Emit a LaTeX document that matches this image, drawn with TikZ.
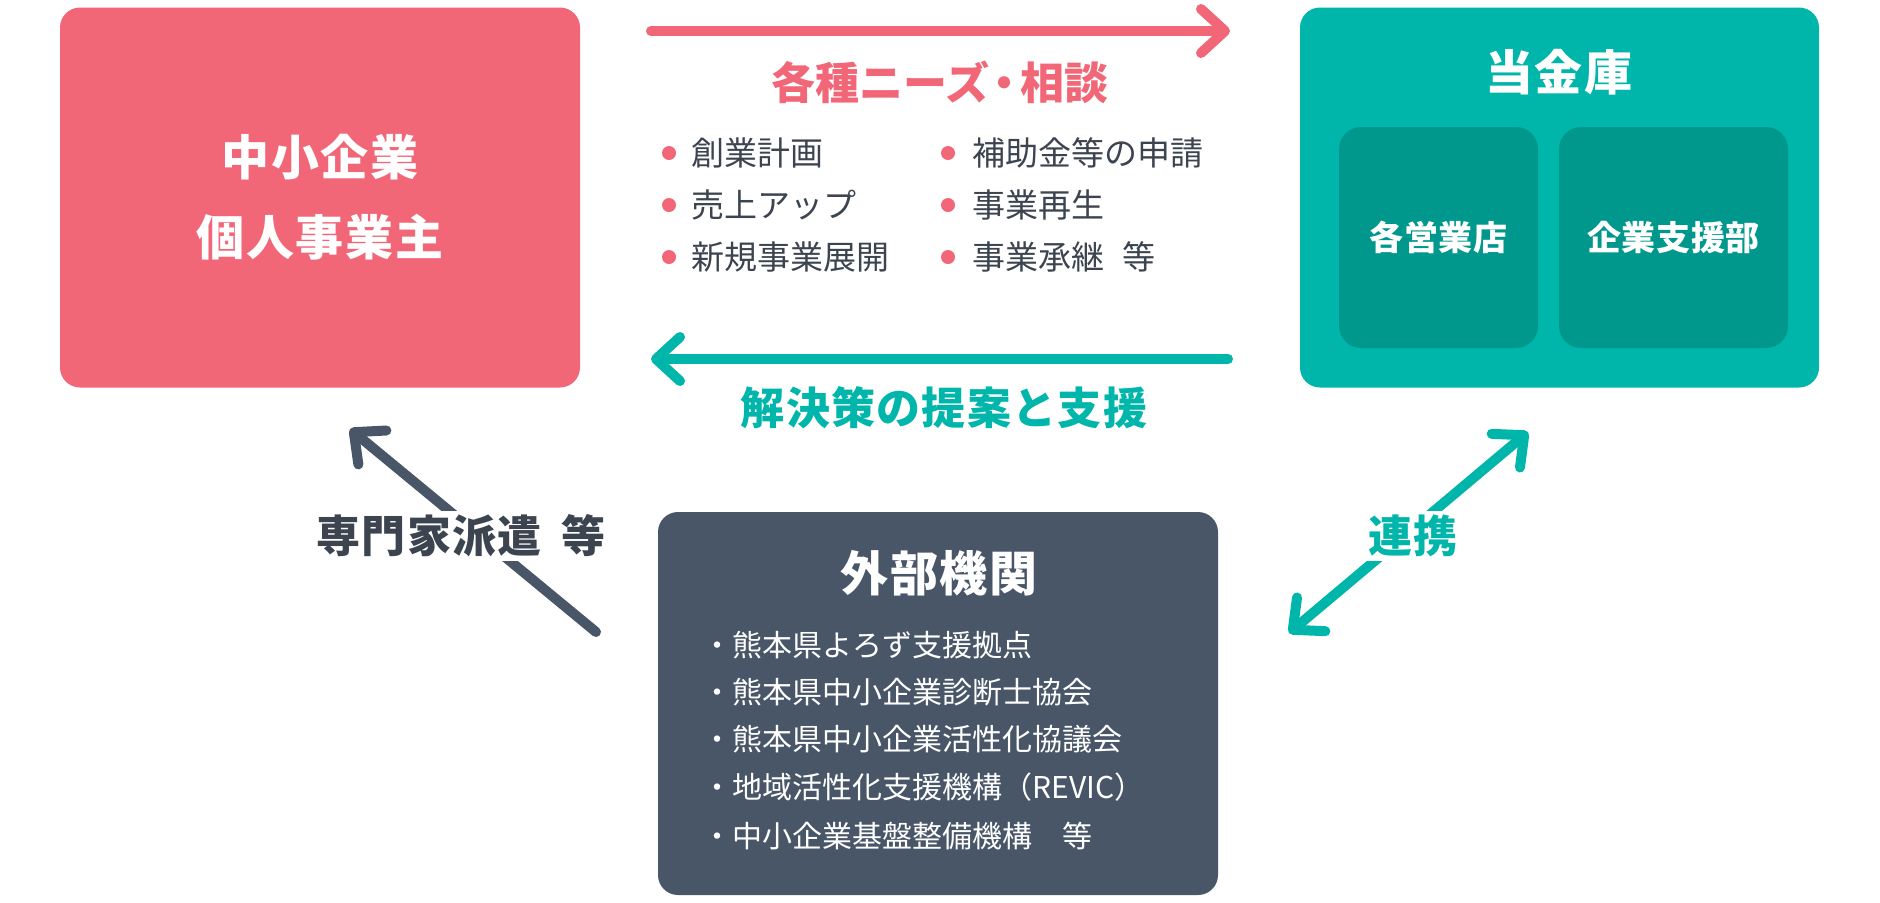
\documentclass[tikz,border=0pt]{standalone}
\usepackage{fontspec}
\setmainfont{Noto Sans CJK JP}
\usetikzlibrary{arrows.meta}
\definecolor{pinkc}{HTML}{F26778}
\definecolor{tealc}{HTML}{00B5AA}
\definecolor{tealdk}{HTML}{00978D}
\definecolor{slate}{HTML}{485668}
\definecolor{inkc}{HTML}{3C4450}
\begin{document}
\begin{tikzpicture}[x=0.5pt,y=-0.5pt,
  box/.style={rounded corners=10pt,inner sep=0pt,align=center,text=white,
    font=\bfseries\fontsize{24}{40}\selectfont\addfontfeature{LetterSpace=4}},
  unit/.style={fill=tealdk,rounded corners=11pt,inner sep=0pt,text=white,
    minimum height=110.5pt,font=\bfseries\fontsize{17}{20}\selectfont\addfontfeature{LetterSpace=2}},
  head/.style={text=white,inner sep=0pt,font=\bfseries\fontsize{24}{28}\selectfont\addfontfeature{LetterSpace=3}},
  need/.style={anchor=west,inner sep=0pt,text=inkc,font=\fontsize{16.5}{20}\selectfont},
  dot/.style={circle,fill=pinkc,inner sep=0pt,minimum size=7pt},
  item/.style={anchor=west,inner sep=0pt,text=white,font=\fontsize{15}{18}\selectfont},
  lbl/.style={inner sep=2pt,font=\bfseries\fontsize{22}{26}\selectfont\addfontfeature{LetterSpace=3}},
  arr/.style={line width=5pt,line cap=round,-{Straight Barb[length=12pt,width=22pt,round]}},
  dblarr/.style={line width=5pt,line cap=round,
    {Straight Barb[length=12pt,width=22pt,round]}-{Straight Barb[length=12pt,width=22pt,round]}}]
\useasboundingbox (0,0) rectangle (1880,902);
% three main boxes
\node[box,fill=pinkc,minimum width=260pt,minimum height=190pt] (firm) at (320,197.5) {中小企業\\個人事業主};
\node[box,fill=tealc,minimum width=259.5pt,minimum height=190pt] (bank) at (1559.5,197.5) {};
\node[head] (bankT) at (1559,72) {当金庫};
\node[unit,minimum width=99.5pt] (branch) at (1438.5,237.5) {各営業店};
\node[unit,minimum width=114.5pt] (dept) at (1673.5,237.5) {企業支援部};
\node[box,fill=slate,minimum width=280pt,minimum height=191.5pt] (ext) at (938,703.5) {};
\node[head] (extT) at (939,573) {外部機関};
\node[item] (e1) at (702,645) {・熊本県よろず支援拠点};
\node[item] (e2) at (702,692) {・熊本県中小企業診断士協会};
\node[item] (e3) at (702,739) {・熊本県中小企業活性化協議会};
\node[item] (e4) at (702,787) {・地域活性化支援機構（REVIC）};
\node[item] (e5) at (702,836) {・中小企業基盤整備機構　等};
% needs
\coordinate (needsA) at (651,31);
\coordinate (needsB) at (1230,31);
\draw[arr,pinkc] (needsA) -- (needsB);
\node[lbl,text=pinkc,font=\bfseries\fontsize{22}{26}\selectfont] (needs) at (940,82) {各種ニーズ\kern-0.14em・\kern-0.14em相談};
\node[dot] (d1) at (669,153) {};
\node[dot] (d2) at (669,205) {};
\node[dot] (d3) at (669,257) {};
\node[dot] (d4) at (948,153) {};
\node[dot] (d5) at (948,205) {};
\node[dot] (d6) at (948,257) {};
\node[need] (n1) at (691,153) {創業計画};
\node[need] (n2) at (691,205) {売上アップ};
\node[need] (n3) at (691,257) {新規事業展開};
\node[need] (n4) at (972,153) {補助金等の申請};
\node[need] (n5) at (972,205) {事業再生};
\node[need] (n6) at (972,257) {事業承継\hspace{0.55em}等};
% proposals
\coordinate (propA) at (1228,359);
\coordinate (propB) at (651,359);
\draw[arr,tealc] (propA) -- (propB);
\node[lbl,text=tealc] (prop) at (944,408) {解決策の提案と支援};
% dispatch
\coordinate (dispA) at (596,632);
\coordinate (dispB) at (350,429);
\draw[arr,slate] (dispA) -- (dispB);
\node[lbl,text=inkc,fill=white] (disp) at (461,536) {専門家派遣\hspace{0.45em}等};
% cooperation
\coordinate (coopA) at (1289,633);
\coordinate (coopB) at (1528,432);
\draw[dblarr,tealc] (coopA) -- (coopB);
\node[lbl,text=tealc,fill=white] (coop) at (1413,536) {連携};
\end{tikzpicture}
\end{document}
